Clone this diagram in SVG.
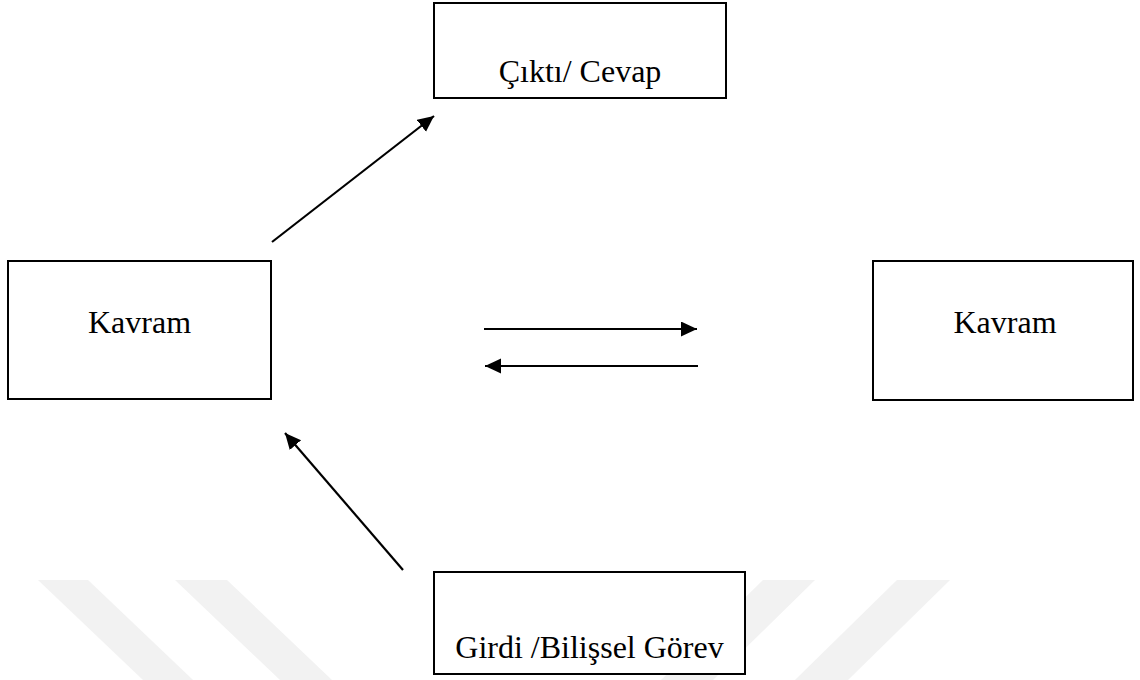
<svg xmlns="http://www.w3.org/2000/svg" width="1140" height="680" viewBox="0 0 1140 680">
  <style>
    .box { fill: #ffffff; stroke: #000000; stroke-width: 2; }
    .label { font-family: "Liberation Serif", "Times New Roman", serif; font-size: 32px; fill: #000000; text-anchor: middle; }
    .conn { stroke: #000000; stroke-width: 2.2; fill: none; marker-end: url(#arrow); }
    .wm { fill: #f2f2f2; }
  </style>
  <defs>
    <marker id="arrow" markerUnits="userSpaceOnUse" markerWidth="17" markerHeight="16" refX="16" refY="7.5" orient="auto">
      <path d="M0,0 L16,7.5 L0,15 z" fill="#000000"/>
    </marker>
  </defs>
  <rect width="1140" height="680" fill="#ffffff"/>
  <g id="watermark">
    <polygon class="wm" points="38,580 88,580 193,680 143,680"/>
    <polygon class="wm" points="175,580 227,580 332,680 280,680"/>
    <polygon class="wm" points="763,580 815,580 713,680 661,680"/>
    <polygon class="wm" points="897,580 950,580 848,680 795,680"/>
  </g>
  <g id="connectors">
    <line class="conn" x1="272" y1="242" x2="434" y2="116"/>
    <line class="conn" x1="403" y1="570" x2="285" y2="433"/>
    <line class="conn" x1="484" y1="329" x2="697" y2="329"/>
    <line class="conn" x1="698" y1="366" x2="485" y2="366"/>
  </g>
  <g id="node-cikti">
    <rect class="box" x="434" y="3" width="292" height="95"/>
    <text class="label" x="580" y="82">Çıktı/ Cevap</text>
  </g>
  <g id="node-kavram-left">
    <rect class="box" x="8" y="261" width="263" height="138"/>
    <text class="label" x="139.5" y="333">Kavram</text>
  </g>
  <g id="node-kavram-right">
    <rect class="box" x="873" y="261" width="260" height="139"/>
    <text class="label" x="1005" y="333">Kavram</text>
  </g>
  <g id="node-girdi">
    <rect class="box" x="434" y="572" width="311" height="102"/>
    <text class="label" x="589.5" y="658">Girdi /Bilişsel Görev</text>
  </g>
</svg>
